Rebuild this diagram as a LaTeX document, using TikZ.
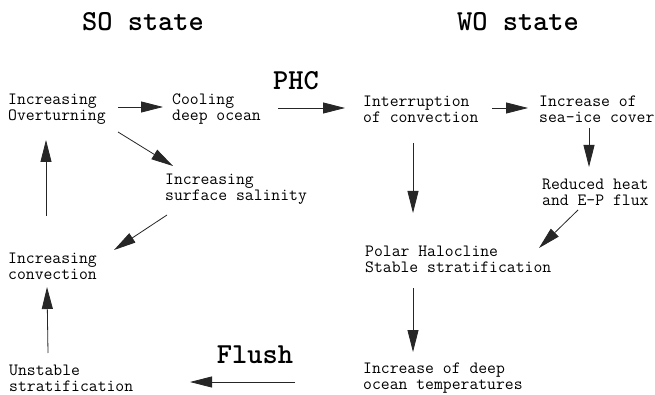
\documentclass[tikz,border=0pt]{standalone}
\usepackage{fontspec}
\usetikzlibrary{arrows.meta}
\tikzset{
  box/.style={anchor=west, inner sep=0pt, align=left, font=\ttfamily\fontsize{17.2}{16}\selectfont},
  ttl/.style={anchor=center, inner sep=0pt, font=\ttfamily\bfseries\fontsize{29}{29}\selectfont},
  arr/.style={draw=black!85, line width=0.8pt, -{Triangle[length=22pt,width=11pt]}}
}
\begin{document}
\begin{tikzpicture}[x=1pt,y=-1pt]
\path[use as bounding box, fill=white] (0,0) rectangle (655,395);
\node[ttl] (so) at (143,22) {SO state};
\node[ttl] (wo) at (518,22) {WO state};
\node[ttl] (phc) at (296,81) {PHC};
\node[ttl] (flush) at (255,355) {Flush};
\node[box] (ov) at (8,109) {Increasing\\Overturning};
\node[box] (cool) at (172,109) {Cooling\\deep ocean};
\node[box] (intr) at (363,109) {Interruption\\of convection};
\node[box] (ice) at (539,109) {Increase of\\sea-ice cover};
\node[box] (sal) at (165,189) {Increasing\\surface salinity};
\node[box] (red) at (542,192) {Reduced heat\\and E-P flux};
\node[box] (conv) at (8,266) {Increasing\\convection};
\node[box] (pol) at (365,259) {Polar Halocline\\Stable stratification};
\node[box] (uns) at (9,378) {Unstable\\stratification};
\node[box] (deep) at (363,378) {Increase of deep\\ocean temperatures};
\draw[arr] ([shift={(110,-2)}]ov.west) -- ([shift={(-9,-2)}]cool.west);
\draw[arr] ([shift={(106,-1)}]cool.west) -- ([shift={(-18,-1)}]intr.west);
\draw[arr] ([shift={(129,-1)}]intr.west) -- ([shift={(-11,-1)}]ice.west);
\draw[arr] ([shift={(110,23)}]ov.west) -- ([shift={(8,-23)}]sal.west);
\draw[arr] ([shift={(2,26)}]sal.west) -- ([shift={(106,-16)}]conv.west);
\draw[arr] ([shift={(38,-50)}]conv.west) -- ([shift={(38,31)}]ov.west);
\draw[arr] ([shift={(39,-25)}]uns.west) -- ([shift={(39,21)}]conv.west);
\draw[arr] ([shift={(-68,4)}]deep.west) -- ([shift={(181,4)}]uns.west);
\draw[arr] ([shift={(50,34)}]intr.west) -- ([shift={(48,-46)}]pol.west);
\draw[arr] ([shift={(50,19)}]ice.west) -- ([shift={(47,-25)}]red.west);
\draw[arr] ([shift={(36,18)}]red.west) -- ([shift={(174,-11)}]pol.west);
\draw[arr] ([shift={(48,29)}]pol.west) -- ([shift={(50,-26)}]deep.west);
\end{tikzpicture}
\end{document}
